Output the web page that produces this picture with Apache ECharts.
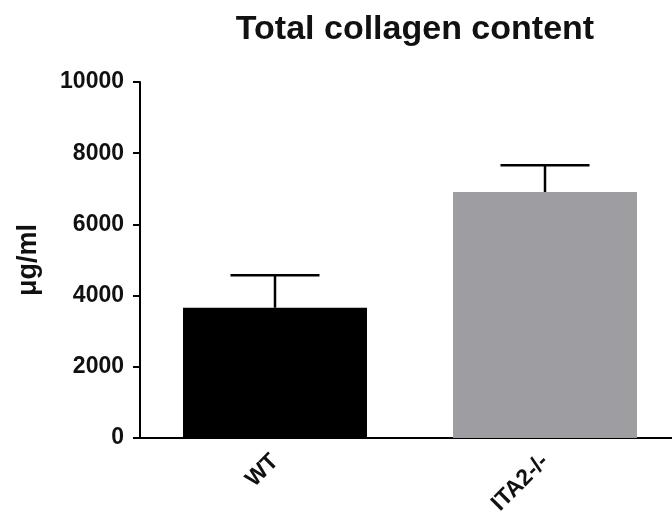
<!DOCTYPE html>
<html>
<head>
<meta charset="utf-8">
<script src="https://cdn.jsdelivr.net/npm/echarts@6/dist/echarts.min.js"></script>
<style>
  html, body { margin: 0; padding: 0; background: #fff; overflow: hidden; }
  #chart { width: 680px; height: 528px; }
</style>
</head>
<body>
<div id="chart"></div>
<script>
// Total collagen content per genotype (mean and upper error)
const categories = ['WT', 'ITA2-/-'];
const means = [3660, 6910];
const errorTops = [4570, 7660];
const barColors = ['#000000', '#9e9ea2'];
const yTicks = [0, 2000, 4000, 6000, 8000, 10000];

const chart = echarts.init(document.getElementById('chart'));
const font = 'Liberation Sans, Arial, Helvetica, sans-serif';

chart.setOption({
  animation: false,
  backgroundColor: '#ffffff',
  title: {
    text: 'Total collagen content',
    left: 410,
    top: 8,
    textAlign: 'center',
    textStyle: { fontFamily: font, fontSize: 34, fontWeight: 'bold', color: '#111' }
  },
  grid: { left: 140, right: 0, top: 82, bottom: 90, containLabel: false },
  xAxis: {
    type: 'category',
    data: categories,
    axisLine: { lineStyle: { color: '#000', width: 2 } },
    axisTick: { alignWithLabel: true, length: 8, lineStyle: { color: '#000', width: 2 } },
    axisLabel: {
      rotate: 45, margin: 20, interval: 0,
      fontFamily: font, fontSize: 23, fontWeight: 'bold', color: '#111'
    }
  },
  yAxis: {
    type: 'value',
    min: yTicks[0],
    max: yTicks[yTicks.length - 1],
    interval: 2000,
    name: 'μg/ml',
    nameLocation: 'middle',
    nameGap: 98,
    nameRotate: 90,
    nameTextStyle: { fontFamily: font, fontSize: 27, fontWeight: 'bold', color: '#111' },
    axisLine: { show: true, lineStyle: { color: '#000', width: 2 } },
    axisTick: { show: true, length: 7, lineStyle: { color: '#000', width: 2 } },
    axisLabel: {
      margin: 16, fontFamily: font, fontSize: 23, fontWeight: 'bold', color: '#111',
      formatter: v => String(v)
    },
    splitLine: { show: false }
  },
  series: [
    {
      type: 'bar',
      barWidth: 184,
      data: means.map((v, i) => ({ value: v, itemStyle: { color: barColors[i] } })),
      z: 2
    },
    {
      type: 'custom',
      z: 3,
      data: categories.map((c, i) => [i, means[i], errorTops[i]]),
      renderItem: function (params, api) {
        const base = api.coord([api.value(0), api.value(1)]);
        const top = api.coord([api.value(0), api.value(2)]);
        const half = 44.5;
        const style = { stroke: '#000', lineWidth: 2.5 };
        return {
          type: 'group',
          children: [
            { type: 'line', shape: { x1: base[0], y1: base[1], x2: top[0], y2: top[1] }, style: style },
            { type: 'line', shape: { x1: top[0] - half, y1: top[1], x2: top[0] + half, y2: top[1] }, style: style }
          ]
        };
      }
    }
  ]
});
</script>
</body>
</html>
